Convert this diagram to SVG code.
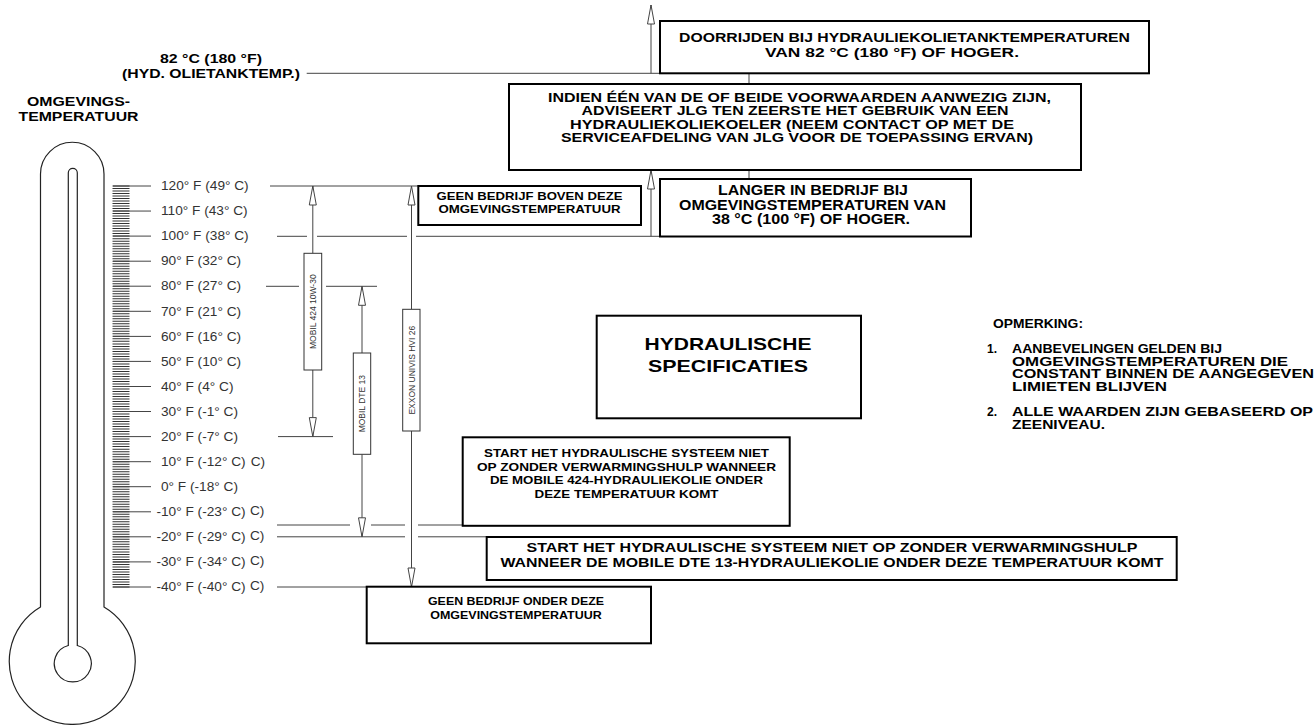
<svg xmlns="http://www.w3.org/2000/svg" width="1315" height="725" viewBox="0 0 1315 725">
<style>
.box{fill:#fff;stroke:#000;stroke-width:2}
.sbox{fill:#fff;stroke:#333;stroke-width:1}
.ln{stroke:#444;stroke-width:1;fill:none}
.th{stroke:#222;stroke-width:1.2;fill:none}
.b{font-family:"Liberation Sans",Arial,Helvetica,sans-serif;font-weight:bold;fill:#000}
.c{text-anchor:middle}
.r{font-family:"Liberation Sans",Arial,Helvetica,sans-serif;fill:#333;font-size:12px}
.v{font-family:"Liberation Sans",Arial,Helvetica,sans-serif;fill:#333;font-size:8.5px;text-anchor:middle}
</style>
<defs>
<marker id="ah" viewBox="-1 -1 21 9" markerWidth="21" markerHeight="9" refX="19" refY="3.5" orient="auto" markerUnits="userSpaceOnUse">
<path d="M0,0 L19,3.5 L0,7 Z" fill="#fff" stroke="#444" stroke-width="1"/>
</marker>
</defs>

<g id="thermometer">
<path class="th" d="M40.5,607 V174 A31.75,31.75 0 0 1 104,174 V607 A63,63 0 1 1 40.5,607 Z"/>
<path class="th" d="M68.3,645.5 V172.8 A4.5,4.5 0 0 1 77.3,172.8 V645.5 A18.5,18.5 0 1 1 68.3,645.5 Z"/>
</g>

<g id="scale">
<line x1="121" y1="185.5" x2="121" y2="587.5" stroke="#333" stroke-width="17" stroke-dasharray="1 1.506"/>
<path class="ln" stroke="#333" d="M113,186H151M113,211.06H151M113,236.1H151M113,261.2H151M113,286.2H151M113,311.3H151M113,336.4H151M113,361.4H151M113,386.5H151M113,411.5H151M113,436.6H151M113,461.7H151M113,486.7H151M113,511.8H151M113,536.8H151M113,561.9H151M113,587H151"/>
</g>

<g id="scale-labels" class="r" transform="translate(161 0) scale(1.14 1)">
<text x="0" y="190.3">120° F (49° C)</text>
<text x="0" y="215.4">110° F (43° C)</text>
<text x="0" y="240.4">100° F (38° C)</text>
<text x="0" y="265.5">90° F (32° C)</text>
<text x="0" y="290.5">80° F (27° C)</text>
<text x="0" y="315.6">70° F (21° C)</text>
<text x="0" y="340.7">60° F (16° C)</text>
<text x="0" y="365.7">50° F (10° C)</text>
<text x="0" y="390.8">40° F (4° C)</text>
<text x="0" y="415.8">30° F (-1° C)</text>
<text x="0" y="440.9">20° F (-7° C)</text>
<text x="0" y="466">10° F (-12° C)</text>
<text x="78.7" y="466">C)</text>
<text x="0" y="491">0° F (-18° C)</text>
<text x="-4" y="516.1">-10° F (-23° C)</text>
<text x="78" y="514.6">C)</text>
<text x="-4" y="541.1">-20° F (-29° C)</text>
<text x="78" y="539.6">C)</text>
<text x="-4" y="566.2">-30° F (-34° C)</text>
<text x="78" y="564.7">C)</text>
<text x="-4" y="591.3">-40° F (-40° C)</text>
<text x="78" y="589.8">C)</text>
</g>

<g id="connectors">
<path class="ln" d="M306.7,73.3H660 M749,73.3V84 M749,170V179
M270,186H418.3
M277,236.3H307 M317,236.3H407 M416,236.3H660
M266,286.3H299 M326,286.3H377
M278,436.6H333
M277,525H350 M371,525H405 M418,525H463
M277,536.8H405 M418,536.8H487
M277,587H367"/>
<line class="ln" x1="651" y1="73.3" x2="651" y2="5" marker-end="url(#ah)"/>
<line class="ln" x1="651" y1="236.3" x2="651" y2="170" marker-end="url(#ah)"/>
<line class="ln" x1="312.8" y1="253.3" x2="312.8" y2="186" marker-end="url(#ah)"/>
<line class="ln" x1="312.8" y1="370" x2="312.8" y2="436.6" marker-end="url(#ah)"/>
<line class="ln" x1="362" y1="353" x2="362" y2="286.3" marker-end="url(#ah)"/>
<line class="ln" x1="362" y1="454.3" x2="362" y2="536.8" marker-end="url(#ah)"/>
<line class="ln" x1="411.5" y1="309.3" x2="411.5" y2="186" marker-end="url(#ah)"/>
<line class="ln" x1="411.5" y1="431" x2="411.5" y2="587" marker-end="url(#ah)"/>
</g>

<g id="label-82c" class="b c" font-size="13">
<text x="211" y="63" textLength="102" lengthAdjust="spacingAndGlyphs">82 °C (180 °F)</text>
<text x="211" y="77.5" textLength="178" lengthAdjust="spacingAndGlyphs">(HYD. OLIETANKTEMP.)</text>
</g>

<g id="label-omgeving" class="b c" font-size="13.5">
<text x="78.5" y="106" textLength="103" lengthAdjust="spacingAndGlyphs">OMGEVINGS-</text>
<text x="78.5" y="120.5" textLength="120" lengthAdjust="spacingAndGlyphs">TEMPERATUUR</text>
</g>

<g id="node-doorrijden">
<rect class="box" x="660" y="21" width="489" height="52.3"/>
<g class="b c" font-size="13.5">
<text x="904.5" y="42" textLength="451" lengthAdjust="spacingAndGlyphs">DOORRIJDEN BIJ HYDRAULIEKOLIETANKTEMPERATUREN</text>
<text x="892" y="57" textLength="254" lengthAdjust="spacingAndGlyphs">VAN 82 °C (180 °F) OF HOGER.</text>
</g>
</g>

<g id="node-indien">
<rect class="box" x="509" y="84" width="572" height="86"/>
<g class="b c" font-size="13.5">
<text x="799.5" y="101.5" textLength="503" lengthAdjust="spacingAndGlyphs">INDIEN ÉÉN VAN DE OF BEIDE VOORWAARDEN AANWEZIG ZIJN,</text>
<text x="795" y="115" textLength="427" lengthAdjust="spacingAndGlyphs">ADVISEERT JLG TEN ZEERSTE HET GEBRUIK VAN EEN</text>
<text x="792" y="128.5" textLength="444" lengthAdjust="spacingAndGlyphs">HYDRAULIEKOLIEKOELER (NEEM CONTACT OP MET DE</text>
<text x="797" y="142" textLength="472" lengthAdjust="spacingAndGlyphs">SERVICEAFDELING VAN JLG VOOR DE TOEPASSING ERVAN)</text>
</g>
</g>

<g id="node-langer">
<rect class="box" x="660" y="179" width="311" height="57.5"/>
<g class="b c" font-size="14">
<text x="813" y="195" textLength="190" lengthAdjust="spacingAndGlyphs">LANGER IN BEDRIJF BIJ</text>
<text x="812.5" y="209.5" textLength="267" lengthAdjust="spacingAndGlyphs">OMGEVINGSTEMPERATUREN VAN</text>
<text x="811" y="224" textLength="198" lengthAdjust="spacingAndGlyphs">38 °C (100 °F) OF HOGER.</text>
</g>
</g>

<g id="node-geen-boven">
<rect class="box" x="418.3" y="186" width="222.7" height="39"/>
<g class="b c" font-size="11.5">
<text x="529.5" y="199.5" textLength="186" lengthAdjust="spacingAndGlyphs">GEEN BEDRIJF BOVEN DEZE</text>
<text x="529.5" y="212.5" textLength="182" lengthAdjust="spacingAndGlyphs">OMGEVINGSTEMPERATUUR</text>
</g>
</g>

<g id="node-mobil424">
<rect class="sbox" x="304" y="253.3" width="17.7" height="116.7"/>
<text class="v" transform="translate(315.9 311.7) rotate(-90)">MOBIL 424 10W-30</text>
</g>

<g id="node-mobildte13">
<rect class="sbox" x="353.3" y="353" width="17.4" height="101.3"/>
<text class="v" transform="translate(365.1 403.7) rotate(-90)">MOBIL DTE 13</text>
</g>

<g id="node-exxon">
<rect class="sbox" x="402.7" y="309.3" width="17.3" height="121.7"/>
<text class="v" transform="translate(414.5 370.2) rotate(-90)">EXXON UNIVIS HVI 26</text>
</g>

<g id="node-hydraulische">
<rect class="box" x="596.7" y="315.7" width="264.3" height="102.6"/>
<g class="b c" font-size="17">
<text x="728" y="350" textLength="167" lengthAdjust="spacingAndGlyphs">HYDRAULISCHE</text>
<text x="728" y="372" textLength="160" lengthAdjust="spacingAndGlyphs">SPECIFICATIES</text>
</g>
</g>

<g id="notes" class="b" font-size="12">
<text x="993" y="327.5" textLength="90" lengthAdjust="spacingAndGlyphs">OPMERKING:</text>
<text x="987" y="353">1.</text>
<text x="1012" y="353" textLength="210" lengthAdjust="spacingAndGlyphs">AANBEVELINGEN GELDEN BIJ</text>
<text x="1012" y="365.5" textLength="276" lengthAdjust="spacingAndGlyphs">OMGEVINGSTEMPERATUREN DIE</text>
<text x="1012" y="378" textLength="302" lengthAdjust="spacingAndGlyphs">CONSTANT BINNEN DE AANGEGEVEN</text>
<text x="1012" y="390.5" textLength="155" lengthAdjust="spacingAndGlyphs">LIMIETEN BLIJVEN</text>
<text x="987" y="416">2.</text>
<text x="1012" y="416" textLength="301" lengthAdjust="spacingAndGlyphs">ALLE WAARDEN ZIJN GEBASEERD OP</text>
<text x="1012" y="428.5" textLength="93" lengthAdjust="spacingAndGlyphs">ZEENIVEAU.</text>
</g>

<g id="node-start-424">
<rect class="box" x="462.7" y="437.3" width="327" height="88.5"/>
<g class="b c" font-size="11.5">
<text x="626.5" y="457" textLength="285" lengthAdjust="spacingAndGlyphs">START HET HYDRAULISCHE SYSTEEM NIET</text>
<text x="626.5" y="470.5" textLength="299" lengthAdjust="spacingAndGlyphs">OP ZONDER VERWARMINGSHULP WANNEER</text>
<text x="626.5" y="484" textLength="273" lengthAdjust="spacingAndGlyphs">DE MOBILE 424-HYDRAULIEKOLIE ONDER</text>
<text x="626.5" y="497.5" textLength="184" lengthAdjust="spacingAndGlyphs">DEZE TEMPERATUUR KOMT</text>
</g>
</g>

<g id="node-start-dte13">
<rect class="box" x="486.7" y="537" width="690" height="43"/>
<g class="b c" font-size="13.5">
<text x="832" y="552" textLength="611" lengthAdjust="spacingAndGlyphs">START HET HYDRAULISCHE SYSTEEM NIET OP ZONDER VERWARMINGSHULP</text>
<text x="832" y="566.5" textLength="663" lengthAdjust="spacingAndGlyphs">WANNEER DE MOBILE DTE 13-HYDRAULIEKOLIE ONDER DEZE TEMPERATUUR KOMT</text>
</g>
</g>

<g id="node-geen-onder">
<rect class="box" x="366.7" y="586.7" width="284.3" height="56.6"/>
<g class="b c" font-size="11.5">
<text x="516" y="605" textLength="176" lengthAdjust="spacingAndGlyphs">GEEN BEDRIJF ONDER DEZE</text>
<text x="516" y="619" textLength="171.5" lengthAdjust="spacingAndGlyphs">OMGEVINGSTEMPERATUUR</text>
</g>
</g>
</svg>
